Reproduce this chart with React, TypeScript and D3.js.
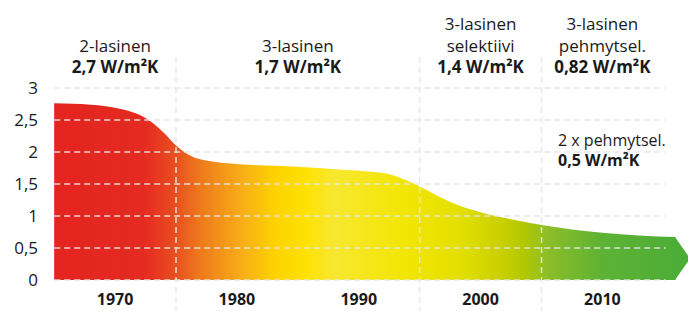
import React from "react";
import * as d3 from "d3";

// U-value of windows over the years (W/m²K)
const years = [1965, 1968, 1970.5, 1972.5, 1974, 1975, 1976, 1978, 1981, 1985, 1989, 1992, 1994, 1995, 1997.5, 2000, 2002.5, 2005, 2010, 2016];
const uValues = [2.76, 2.74, 2.67, 2.53, 2.3, 2.1, 1.96, 1.85, 1.8, 1.77, 1.72, 1.67, 1.55, 1.46, 1.22, 1.06, 0.95, 0.86, 0.74, 0.67];

const yTicks = [0, 0.5, 1, 1.5, 2, 2.5, 3];
const yTickLabels = ["0", "0,5", "1", "1,5", "2", "2,5", "3"];
const decadeLabels = ["1970", "1980", "1990", "2000", "2010"];
const decadeYears = [1970, 1980, 1990, 2000, 2010];
const dividerYears = [1975, 1995, 2005];

// header groups: centre year, normal lines, bold line
const headerYears = [1970, 1985, 2000, 2010];
const headerLines = [["2-lasinen"], ["3-lasinen"], ["3-lasinen", "selektiivi"], ["3-lasinen", "pehmytsel."]];
const headerBold = ["2,7 W/m²K", "1,7 W/m²K", "1,4 W/m²K", "0,82 W/m²K"];

const gradientYears = [1965, 1972.5, 1975, 1977, 1980.5, 1983, 1985.5, 1988, 1994, 1998, 2002, 2003.5, 2005.5, 2010, 2017];
const gradientColors = ["#e3231f", "#e52b21", "#e8501f", "#ef7a1d", "#f8b016", "#fdd000", "#fee100", "#f8e830", "#f2e500", "#e5e000", "#c6cf00", "#b3c800", "#8ebe2a", "#5db234", "#4aad37"];

export default function App() {
  const width = 688, height = 311;

  const x = d3.scaleLinear().domain([1975, 2005]).range([176, 541.5]);
  const y = d3.scaleLinear().domain([0, 3]).range([280, 88]);

  const startYear = years[0];
  const endYear = years[years.length - 1];
  const gridEnd = 2015.2;
  const tipYear = 2017.2;

  const pts: [number, number][] = years.map((yr, i) => [yr, uValues[i]]);
  const area = d3.area<[number, number]>()
    .x(d => x(d[0]))
    .y0(y(0))
    .y1(d => y(d[1]))
    .curve(d3.curveMonotoneX);

  const lastVal = uValues[uValues.length - 1];
  const arrow = [
    [x(endYear) - 0.5, y(lastVal)],
    [x(tipYear), y(lastVal / 2)],
    [x(endYear) - 0.5, y(0)],
  ].map(p => p.join(",")).join(" ");

  const gridColor = "#e6e6e6";
  const font = "'Open Sans', sans-serif";

  return (
    <svg width={width} height={height} style={{ position: "absolute", left: 0, top: 0, background: "#fff" }}>
      <defs>
        <linearGradient id="uGrad" gradientUnits="userSpaceOnUse" x1={x(startYear)} x2={x(tipYear)} y1={0} y2={0}>
          {gradientYears.map((yr, i) => (
            <stop key={i} offset={(yr - startYear) / (tipYear - startYear)} stopColor={gradientColors[i]} />
          ))}
        </linearGradient>
      </defs>

      <path d={area(pts) || ""} fill="url(#uGrad)" />
      <polygon points={arrow} fill="url(#uGrad)" />

      {/* horizontal grid */}
      {yTicks.map((t, i) => (
        <line key={"h" + i} x1={x(startYear)} x2={x(gridEnd)} y1={y(t)} y2={y(t)}
          stroke={gridColor} strokeWidth={1.5} strokeDasharray="6,4" opacity={0.9} />
      ))}
      {/* vertical dividers */}
      {dividerYears.map((yr, i) => (
        <line key={"v" + i} x1={x(yr)} x2={x(yr)} y1={57} y2={height}
          stroke={gridColor} strokeWidth={1.5} strokeDasharray="6,4" opacity={0.9} />
      ))}

      {/* y axis labels */}
      {yTicks.map((t, i) => (
        <text key={"yl" + i} x={38} y={y(t)} dy="0.36em" textAnchor="end"
          fontFamily={font} fontSize={17} fill="#1a1a1a">{yTickLabels[i]}</text>
      ))}

      {/* decade labels */}
      {decadeYears.map((yr, i) => (
        <text key={"xl" + i} x={x(yr)} y={305} textAnchor="middle"
          fontFamily={font} fontWeight="bold" fontSize={16} fill="#1a1a1a">{decadeLabels[i]}</text>
      ))}

      {/* header labels */}
      {headerYears.map((yr, i) => {
        const lines = headerLines[i];
        return (
          <g key={"hd" + i} fontFamily={font} fontSize={17} fill="#1a1a1a" textAnchor="middle">
            {lines.map((ln, j) => (
              <text key={j} x={x(yr)} y={52 - (lines.length - 1 - j) * 22}>{ln}</text>
            ))}
            <text x={x(yr)} y={73} fontWeight="bold">{headerBold[i]}</text>
          </g>
        );
      })}

      <g fontFamily={font} fontSize={16} fill="#1a1a1a">
        <text x={558} y={146}>2 x pehmytsel.</text>
        <text x={558} y={166} fontWeight="bold">0,5 W/m²K</text>
      </g>
    </svg>
  );
}
